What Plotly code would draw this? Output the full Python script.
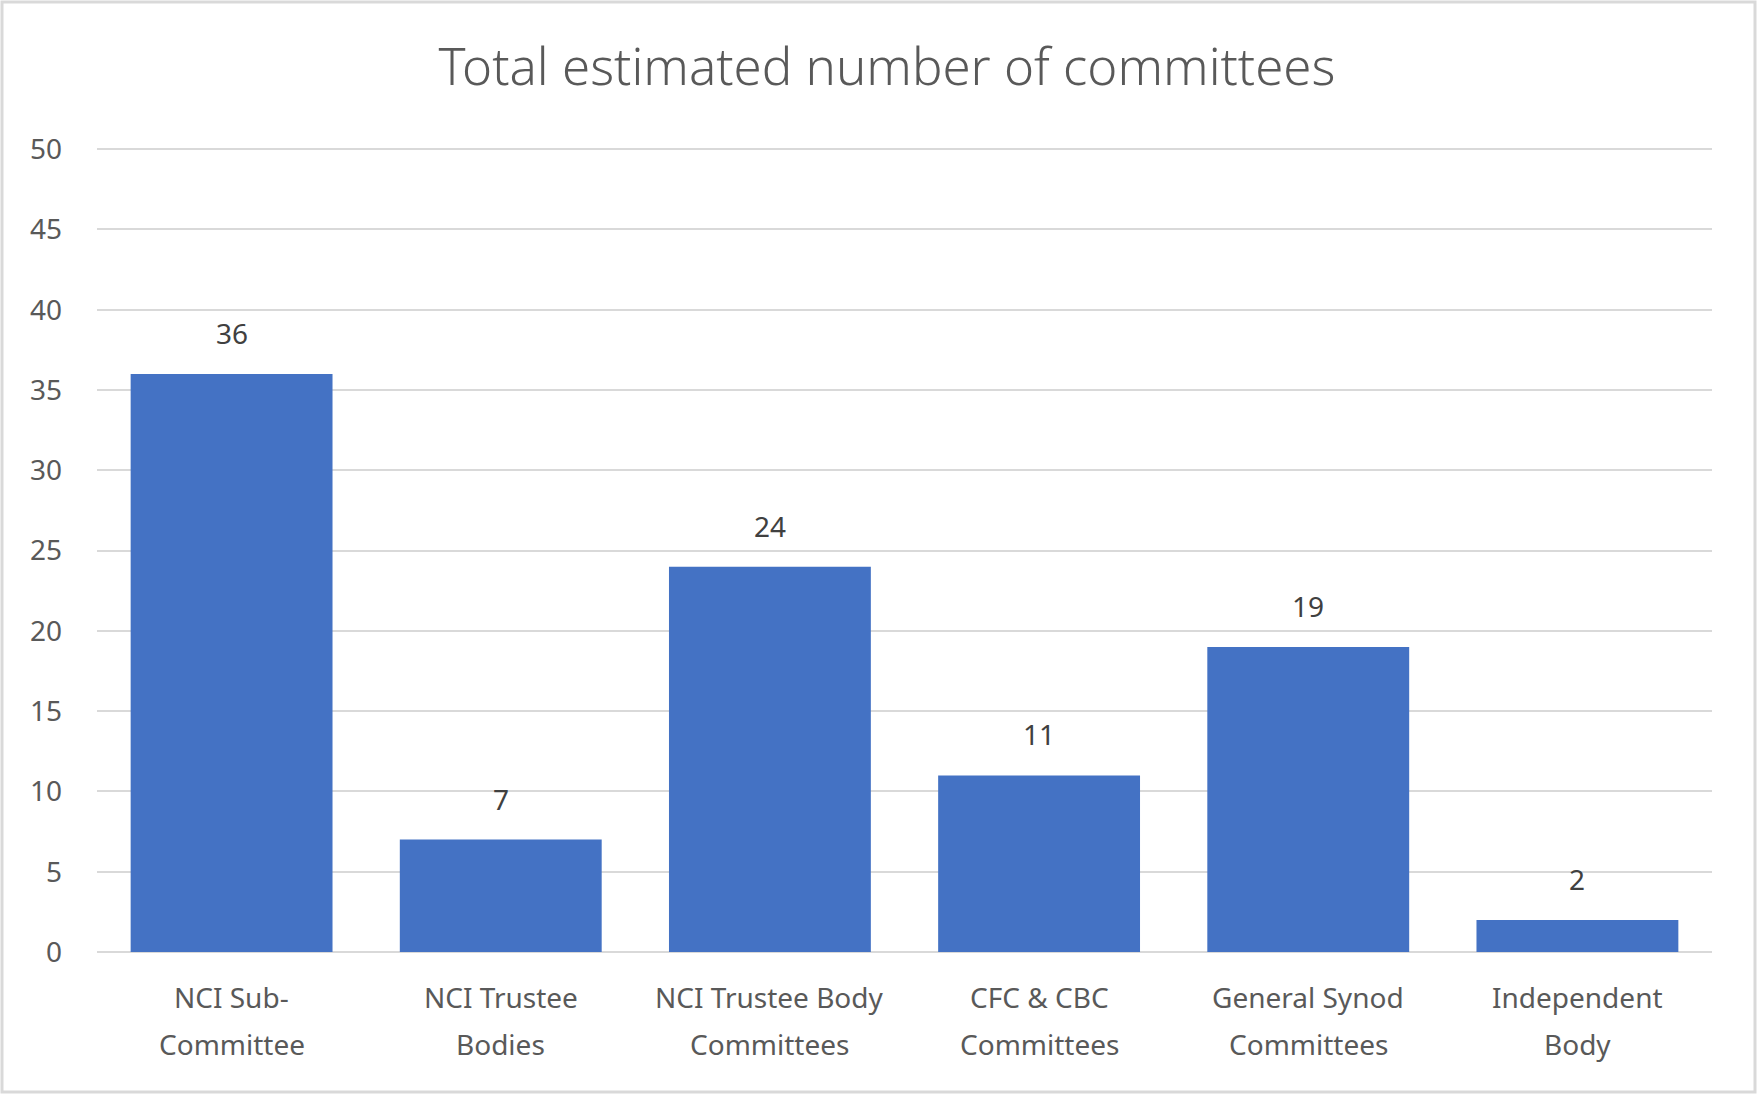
import plotly.graph_objects as go

categories = ["NCI Sub-<br>Committee", "NCI Trustee<br>Bodies", "NCI Trustee Body<br>Committees",
              "CFC & CBC<br>Committees", "General Synod<br>Committees", "Independent<br>Body"]
values = [36, 7, 24, 11, 19, 2]
y_ticks = [0, 5, 10, 15, 20, 25, 30, 35, 40, 45, 50]
title_text = "Total estimated number of committees"

W, H = 1757, 1094
ML, MR, MT, MB = 97, 45, 146, 142
PW, PH = W - ML - MR, H - MT - MB

FONT = "Noto Sans"
GREY = "#595959"

fig = go.Figure()
fig.add_trace(go.Bar(x=categories, y=values, marker=dict(color="#4472C4", line=dict(width=0)),
                     hoverinfo="skip"))

for c, v in zip(categories, values):
    fig.add_annotation(x=c, y=v, text=str(v), showarrow=False, yanchor="bottom", yshift=20,
                       font=dict(family=FONT, size=28, color="#404040"))

# category labels, one annotation per line for wider line spacing
for c in categories:
    for i, line in enumerate(c.split("<br>")):
        fig.add_annotation(x=c, y=0, text=line, showarrow=False, yanchor="middle",
                           yshift=-(45 + 47 * i),
                           font=dict(family=FONT, size=28, color=GREY))

fig.update_layout(
    width=W, height=H,
    margin=dict(l=ML, r=MR, t=MT, b=MB),
    paper_bgcolor="white", plot_bgcolor="white",
    bargap=0.25,
    showlegend=False,
    title=dict(text=title_text, x=887 / W, xanchor="center", y=1 - 67 / H, yanchor="middle",
               font=dict(family=FONT, size=51, color=GREY, weight=300)),
    font=dict(family=FONT, color=GREY),
)
fig.update_yaxes(range=[0, 50.2], tickvals=y_ticks, showgrid=True, gridcolor="#d9d9d9", gridwidth=2,
                 zeroline=True, zerolinecolor="#d9d9d9", zerolinewidth=2, showline=False,
                 ticks="", ticklabelstandoff=34, tickfont=dict(family=FONT, size=28, color=GREY),
                 fixedrange=True)
fig.update_xaxes(showgrid=False, showline=False, ticks="", showticklabels=False, fixedrange=True)

# outer border of the chart area
fig.add_shape(type="rect", xref="paper", yref="paper",
              x0=-(ML - 2) / PW, x1=1 + (MR - 2) / PW, y0=-(MB - 2) / PH, y1=1 + (MT - 2) / PH,
              line=dict(color="#d9d9d9", width=3), fillcolor="rgba(0,0,0,0)", layer="below")

fig.write_html("out.html", config={"displayModeBar": False})
